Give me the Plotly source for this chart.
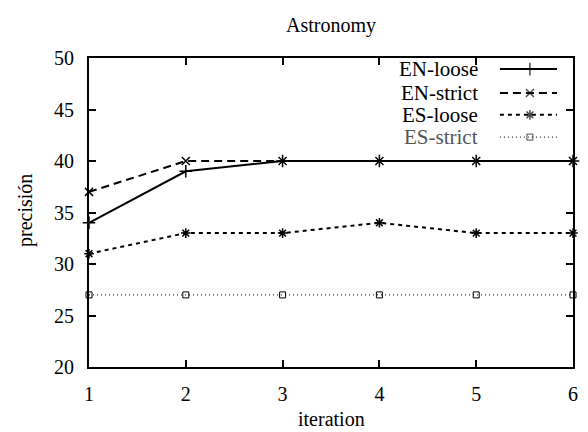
import plotly.graph_objects as go

iterations = [1, 2, 3, 4, 5, 6]
en_loose = [34, 39, 40, 40, 40, 40]
en_strict = [37, 40, 40, 40, 40, 40]
es_loose = [31, 33, 33, 34, 33, 33]
es_strict = [27, 27, 27, 27, 27, 27]
series_names = ["EN-loose", "EN-strict", "ES-loose", "ES-strict"]
y_ticks = [20, 25, 30, 35, 40, 45, 50]

FONT = "Liberation Serif"
styles = [
    dict(dash="solid", symbol="cross-thin-open", size=9, width=2),
    dict(dash="8px,5px", symbol="x-thin-open", size=8, width=2),
    dict(dash="4px,4px", symbol="asterisk-open", size=8, width=2),
    dict(dash="1px,3px", symbol="square-open", size=6, width=1),
]
data = [en_loose, en_strict, es_loose, es_strict]

fig = go.Figure()
for name, ys, st in zip(series_names, data, styles):
    fig.add_trace(go.Scatter(
        x=iterations, y=ys, name=name, mode="lines+markers",
        line=dict(color="black", width=st["width"], dash=st["dash"]),
        marker=dict(symbol=st["symbol"], size=st["size"], color="black",
                    line=dict(color="black", width=1.5 if st["symbol"] != "square-open" else 1)),
        showlegend=False, cliponaxis=False,
    ))

# custom legend (gnuplot style: text on the left, sample on the right)
leg_y = [0.964, 0.887, 0.816, 0.744]
for i, (name, st) in enumerate(zip(series_names, styles)):
    fig.add_trace(go.Scatter(
        x=[0.849, 0.911, 0.967], y=[leg_y[i]] * 3, xaxis="x2", yaxis="y2",
        mode="lines+markers",
        line=dict(color="black", width=st["width"], dash=st["dash"]),
        marker=dict(symbol=st["symbol"], size=[0, st["size"], 0], color="black",
                    line=dict(color="black", width=1.5 if st["symbol"] != "square-open" else 1)),
        showlegend=False, hoverinfo="skip",
    ))
    fig.add_annotation(
        x=0.808, y=leg_y[i], xref="paper", yref="paper", text=name,
        showarrow=False, xanchor="right", yanchor="middle",
        font=dict(family=FONT, size=21, color="#555" if i == 3 else "black"),
    )

# axis titles
fig.add_annotation(x=0.5, y=-0.168, xref="paper", yref="paper", text="iteration",
                   showarrow=False, xanchor="center", yanchor="middle",
                   font=dict(family=FONT, size=20, color="black"))
fig.add_annotation(x=-0.13, y=0.505, xref="paper", yref="paper", text="precisión",
                   showarrow=False, xanchor="center", yanchor="middle", textangle=-90,
                   font=dict(family=FONT, size=20, color="black"))

fig.update_layout(
    width=588, height=432,
    margin=dict(l=81, r=23, t=50, b=73),
    paper_bgcolor="white", plot_bgcolor="white",
    title=dict(text="Astronomy", xref="paper", x=0.5, xanchor="center",
               y=0.96, yanchor="middle",
               font=dict(family=FONT, size=20, color="black")),
    font=dict(family=FONT, color="black"),
    xaxis=dict(
        range=[1, 6], tickvals=iterations, ticktext=[str(v) for v in iterations],
        ticks="inside", ticklen=7, tickwidth=1.5, tickcolor="black",
        showline=True, linecolor="black", linewidth=2, mirror="allticks",
        showgrid=False, zeroline=False, ticklabelstandoff=8,
        tickfont=dict(family=FONT, size=20),
    ),
    yaxis=dict(
        range=[20, 50], tickvals=y_ticks,
        ticks="inside", ticklen=7, tickwidth=1.5, tickcolor="black",
        showline=True, linecolor="black", linewidth=2, mirror="allticks",
        showgrid=False, zeroline=False, ticklabelstandoff=9,
        tickfont=dict(family=FONT, size=20),
    ),
    xaxis2=dict(range=[0, 1], overlaying="x", visible=False, fixedrange=True),
    yaxis2=dict(range=[0, 1], overlaying="y", visible=False, fixedrange=True),
)

fig.write_html("out.html")
